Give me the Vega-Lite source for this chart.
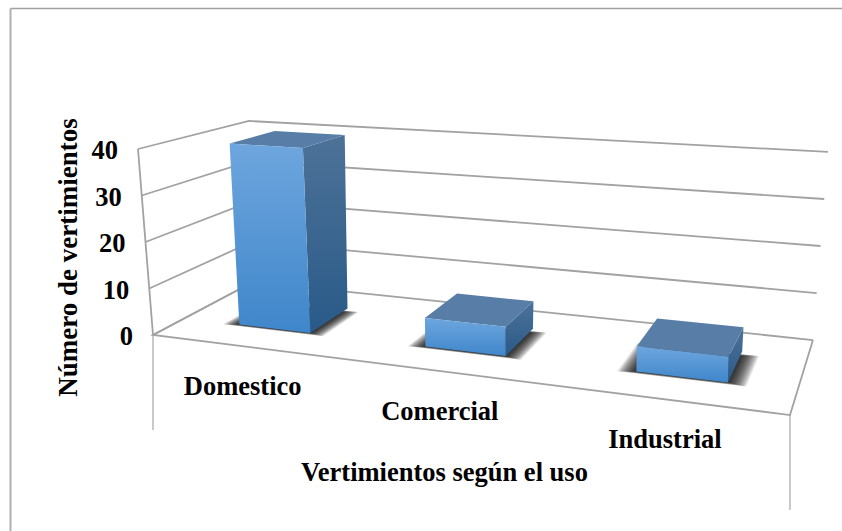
{
  "$schema": "https://vega.github.io/schema/vega-lite/v6.json",
  "width": 832,
  "height": 523,
  "padding": {"left": 10, "top": 8, "right": 0, "bottom": 0},
  "autosize": {"type": "none"},
  "background": "white",
  "config": {
    "view": {"stroke": null},
    "text": {"font": "Liberation Serif", "fontWeight": "bold", "fontSize": 26.5, "color": "#000000"}
  },
  "datasets": {
    "usos": [
      {"uso": "Domestico", "vertimientos": 40},
      {"uso": "Comercial", "vertimientos": 6},
      {"uso": "Industrial", "vertimientos": 5}
    ],
    "niveles": [
      {"nivel": 0}, {"nivel": 10}, {"nivel": 20}, {"nivel": 30}, {"nivel": 40}
    ],
    "suelo": [
      {"orden": 0, "u": 0, "d": 1},
      {"orden": 1, "u": 0, "d": 0},
      {"orden": 2, "u": 1, "d": 0},
      {"orden": 3, "u": 1, "d": 1}
    ],
    "caidas": [
      {"u": 0, "d": 0},
      {"u": 1, "d": 0}
    ]
  },
  "encoding": {
    "x": {
      "field": "px",
      "type": "quantitative",
      "scale": {"domain": [10, 842], "nice": false, "zero": false},
      "axis": {
        "orient": "top",
        "title": "Vertimientos según el uso",
        "titleFont": "Liberation Serif",
        "titleFontWeight": "bold",
        "titleFontSize": 26.5,
        "titleColor": "#000000",
        "titleX": 434,
        "titleY": 464,
        "titleAlign": "center",
        "titleBaseline": "middle",
        "labels": false,
        "ticks": false,
        "grid": false,
        "domainColor": "#a0a0a0",
        "domainWidth": 1.4
      }
    },
    "y": {
      "field": "py",
      "type": "quantitative",
      "scale": {"domain": [531, 8], "nice": false, "zero": false},
      "axis": {
        "orient": "left",
        "title": "Número de vertimientos",
        "titleFont": "Liberation Serif",
        "titleFontWeight": "bold",
        "titleFontSize": 27,
        "titleColor": "#000000",
        "titleX": 58,
        "titleY": 249,
        "titleAngle": -90,
        "titleAlign": "center",
        "titleBaseline": "middle",
        "labels": false,
        "ticks": false,
        "grid": false,
        "domainColor": "#b0b0b0",
        "domainWidth": 2
      }
    }
  },
  "layer": [
    {
      "data": {"name": "niveles"},
      "transform": [
        {"calculate": "[0, 1, 2]", "as": "vertice"},
        {"flatten": ["vertice"]},
        {"calculate": "datum.vertice == 2 ? 1 : 0", "as": "u"},
        {"calculate": "datum.vertice == 0 ? 0 : 1", "as": "d"},
        {"calculate": "(153 + 494*datum.u + 136.7*datum.d + (datum.nivel/40)*(-15 + 19.1*datum.u + 10.4*datum.d)) / (1 - 0.181*datum.u + 0.145*datum.d)", "as": "px"},
        {"calculate": "(335 + 4.9*datum.u - 12.1*datum.d + (datum.nivel/40)*(-186 + 3.1*datum.u + 1.6*datum.d)) / (1 - 0.181*datum.u + 0.145*datum.d)", "as": "py"}
      ],
      "mark": {"type": "line", "color": "#a2a2a2", "strokeWidth": 1.8},
      "encoding": {
        "detail": {"field": "nivel"},
        "order": {"field": "vertice"}
      }
    },
    {
      "data": {"name": "suelo"},
      "transform": [
        {"calculate": "(153 + 494*datum.u + 136.7*datum.d) / (1 - 0.181*datum.u + 0.145*datum.d)", "as": "px"},
        {"calculate": "(335 + 4.9*datum.u - 12.1*datum.d) / (1 - 0.181*datum.u + 0.145*datum.d)", "as": "py"}
      ],
      "mark": {"type": "line", "color": "#a2a2a2", "strokeWidth": 1.8},
      "encoding": {"order": {"field": "orden"}}
    },
    {
      "data": {"name": "caidas"},
      "transform": [
        {"calculate": "(153 + 494*datum.u + 136.7*datum.d) / (1 - 0.181*datum.u + 0.145*datum.d)", "as": "px"},
        {"calculate": "(335 + 4.9*datum.u - 12.1*datum.d) / (1 - 0.181*datum.u + 0.145*datum.d)", "as": "py"}
      ],
      "mark": {"type": "rule", "color": "#a6a6a6", "strokeWidth": 1.2, "y2Offset": 95},
      "encoding": {"y2": {"field": "py"}}
    },
    {
      "data": {"name": "niveles"},
      "transform": [
        {"filter": "datum.nivel == 0 || datum.nivel == 40"},
        {"calculate": "153 + (datum.nivel/40)*(-15)", "as": "px"},
        {"calculate": "335 + (datum.nivel/40)*(-186)", "as": "py"}
      ],
      "mark": {"type": "line", "color": "#a2a2a2", "strokeWidth": 1.8},
      "encoding": {"order": {"field": "nivel"}}
    },
    {
      "data": {"name": "usos"},
      "transform": [
        {"window": [{"op": "row_number", "as": "n"}]},
        {"calculate": "(datum.n - 0.5)/3 + 0.005 - 0.066", "as": "u0"},
        {"calculate": "(datum.n - 0.5)/3 + 0.005 + 0.066", "as": "u1"},
        {"calculate": "[0, 1, 2, 3]", "as": "vertice"},
        {"flatten": ["vertice"]}
      ],
      "layer": [
        {
          "transform": [
            {"calculate": "[1, 2, 3, 4, 5, 6, 7, 8, 9, 10, 11, 12, 13, 14]", "as": "halo"},
            {"flatten": ["halo"]},
            {"calculate": "datum.halo * 0.0019", "as": "e"},
            {"calculate": "datum.vertice == 0 || datum.vertice == 3 ? datum.u0 - datum.e : datum.u1 + datum.e", "as": "u"},
            {"calculate": "datum.vertice < 2 ? 0.29 - datum.e * 0.9 : 0.66 + datum.e * 0.9", "as": "d"},
            {"calculate": "(153 + 494*datum.u + 136.7*datum.d) / (1 - 0.181*datum.u + 0.145*datum.d)", "as": "px"},
            {"calculate": "(335 + 4.9*datum.u - 12.1*datum.d) / (1 - 0.181*datum.u + 0.145*datum.d)", "as": "py"},
            {"calculate": "datum.uso + datum.halo", "as": "capa"}
          ],
          "mark": {"type": "line", "fill": "#000000", "fillOpacity": 0.1, "strokeWidth": 0, "stroke": null},
          "encoding": {"detail": {"field": "capa"}, "order": {"field": "vertice"}}
        },
        {
          "transform": [
            {"calculate": "datum.u1", "as": "u"},
            {"calculate": "datum.vertice == 0 || datum.vertice == 3 ? 0.29 : 0.72", "as": "d"},
            {"calculate": "datum.vertice < 2 ? 0 : datum.vertimientos", "as": "v"},
            {"calculate": "(153 + 494*datum.u + 136.7*datum.d + (datum.v/40)*(-15 + 19.1*datum.u + 10.4*datum.d)) / (1 - 0.181*datum.u + 0.145*datum.d)", "as": "px"},
            {"calculate": "(335 + 4.9*datum.u - 12.1*datum.d + (datum.v/40)*(-186 + 3.1*datum.u + 1.6*datum.d)) / (1 - 0.181*datum.u + 0.145*datum.d)", "as": "py"}
          ],
          "mark": {
            "type": "line",
            "stroke": null,
            "strokeWidth": 0,
            "fill": {"gradient": "linear", "x1": 0, "y1": 0, "x2": 0, "y2": 1, "stops": [{"offset": 0, "color": "#4d7298"}, {"offset": 1, "color": "#295a88"}]}
          },
          "encoding": {"detail": {"field": "uso"}, "order": {"field": "vertice"}}
        },
        {
          "transform": [
            {"calculate": "datum.vertice == 0 || datum.vertice == 3 ? datum.u0 : datum.u1", "as": "u"},
            {"calculate": "datum.vertice < 2 ? 0.29 : 0.72", "as": "d"},
            {"calculate": "datum.vertimientos", "as": "v"},
            {"calculate": "(153 + 494*datum.u + 136.7*datum.d + (datum.v/40)*(-15 + 19.1*datum.u + 10.4*datum.d)) / (1 - 0.181*datum.u + 0.145*datum.d)", "as": "px"},
            {"calculate": "(335 + 4.9*datum.u - 12.1*datum.d + (datum.v/40)*(-186 + 3.1*datum.u + 1.6*datum.d)) / (1 - 0.181*datum.u + 0.145*datum.d)", "as": "py"}
          ],
          "mark": {"type": "line", "stroke": null, "strokeWidth": 0, "fill": "#587da6"},
          "encoding": {"detail": {"field": "uso"}, "order": {"field": "vertice"}}
        },
        {
          "transform": [
            {"calculate": "datum.vertice == 0 || datum.vertice == 3 ? datum.u0 : datum.u1", "as": "u"},
            {"calculate": "0.29", "as": "d"},
            {"calculate": "datum.vertice < 2 ? 0 : datum.vertimientos", "as": "v"},
            {"calculate": "(153 + 494*datum.u + 136.7*datum.d + (datum.v/40)*(-15 + 19.1*datum.u + 10.4*datum.d)) / (1 - 0.181*datum.u + 0.145*datum.d)", "as": "px"},
            {"calculate": "(335 + 4.9*datum.u - 12.1*datum.d + (datum.v/40)*(-186 + 3.1*datum.u + 1.6*datum.d)) / (1 - 0.181*datum.u + 0.145*datum.d)", "as": "py"}
          ],
          "mark": {
            "type": "line",
            "stroke": null,
            "strokeWidth": 0,
            "fill": {"gradient": "linear", "x1": 0, "y1": 0, "x2": 0, "y2": 1, "stops": [{"offset": 0, "color": "#6ea6de"}, {"offset": 1, "color": "#3f86ca"}]}
          },
          "encoding": {"detail": {"field": "uso"}, "order": {"field": "vertice"}}
        }
      ]
    },
    {
      "data": {"name": "niveles"},
      "transform": [
        {"calculate": "153 + (datum.nivel/40)*(-15)", "as": "px"},
        {"calculate": "335 + (datum.nivel/40)*(-186)", "as": "py"}
      ],
      "mark": {"type": "text", "align": "right", "baseline": "middle", "dx": -20, "dy": 2},
      "encoding": {"text": {"field": "nivel", "type": "quantitative"}}
    },
    {
      "data": {"name": "usos"},
      "transform": [
        {"window": [{"op": "row_number", "as": "n"}]},
        {"calculate": "(datum.n - 0.5)/3", "as": "u"},
        {"calculate": "(153 + 494*datum.u) / (1 - 0.181*datum.u)", "as": "px"},
        {"calculate": "(335 + 4.9*datum.u) / (1 - 0.181*datum.u)", "as": "py"}
      ],
      "mark": {"type": "text", "align": "center", "baseline": "middle", "dy": 41},
      "encoding": {"text": {"field": "uso", "type": "nominal"}}
    }
  ]
}
